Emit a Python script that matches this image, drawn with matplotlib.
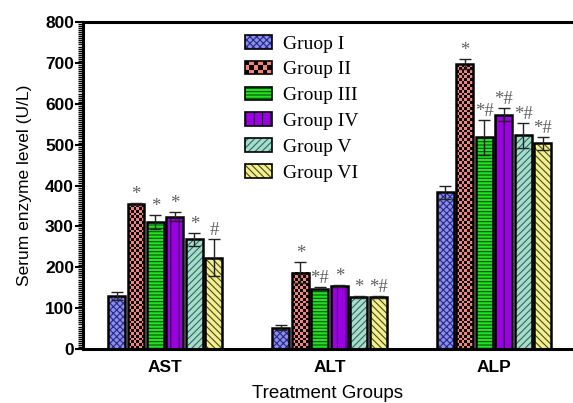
import numpy as np
import matplotlib
matplotlib.use('Agg')
import matplotlib.pyplot as plt
from matplotlib.colors import ListedColormap
from matplotlib.legend_handler import HandlerBase
from matplotlib.patches import Rectangle
from matplotlib.ticker import MultipleLocator

enzymes = ['AST', 'ALT', 'ALP']
groups = ['Gruop I', 'Group II', 'Group III', 'Group IV', 'Group V', 'Group VI']

grp_1 = [129, 52, 383]
grp_2 = [354, 187, 697]
grp_3 = [310, 148, 518]
grp_4 = [324, 154, 573]
grp_5 = [268, 127, 523]
grp_6 = [223, 127, 503]

err_1 = [10, 6, 15]
err_2 = [2, 25, 12]
err_3 = [17, 3, 43]
err_4 = [12, 2, 16]
err_5 = [17, 3, 31]
err_6 = [45, 3, 15]

marks_1 = ['', '', '']
marks_2 = ['*', '*', '*']
marks_3 = ['*', '*#', '*#']
marks_4 = ['*', '*', '*#']
marks_5 = ['*', '*', '*#']
marks_6 = ['#', '*#', '*#']

values = [grp_1, grp_2, grp_3, grp_4, grp_5, grp_6]
errors = [err_1, err_2, err_3, err_4, err_5, err_6]
marks = [marks_1, marks_2, marks_3, marks_4, marks_5, marks_6]

fills = ['#8c8cee', '#f2837a', '#22e022', '#9b00e0', '#a6dccb', '#f2ef8e']
hatch_cols = ['#262a80', 'black', '#0b4d0b', '#2a0045', '#2f6a5c', '#4a4a20']
hatches = ['xxxxx', None, '-----', '||', '/////', '\\\\\\\\\\']

plt.rcParams['hatch.linewidth'] = 0.8

fig = plt.figure(figsize=(5.73, 4.03), dpi=100)
ax = fig.add_axes([83/573, 54/403, 1 - 83/573, 327/403])

x = np.arange(len(enzymes))
width = 0.103
step = 0.1185

for i in range(len(groups)):
    xs = x + (i - 2.5) * step
    if hatches[i] is None:
        ax.bar(xs, values[i], width, color=fills[i], linewidth=0, zorder=2)
        for xi, h in zip(xs, values[i]):
            rows = int(round(h / 7.0))
            checker = np.add.outer(np.arange(rows), np.arange(6)) % 2
            ax.imshow(checker, extent=(xi - width/2, xi + width/2, 0, h), origin='lower',
                      cmap=ListedColormap([fills[i], 'black']), aspect='auto',
                      interpolation='nearest', zorder=2.5)
    else:
        ax.bar(xs, values[i], width, color=fills[i], edgecolor=hatch_cols[i],
               hatch=hatches[i], linewidth=0, zorder=2)
    ax.bar(xs, values[i], width, fill=False, edgecolor='black', linewidth=1.8, zorder=3)
    ax.errorbar(xs, values[i], yerr=errors[i], fmt='none', ecolor='#222222',
                elinewidth=1, capsize=4.5, capthick=1, zorder=4)
    for xi, v, e, m in zip(xs, values[i], errors[i], marks[i]):
        if m:
            ax.annotate(m, (xi, v + e), xytext=(0, 0), textcoords='offset points',
                        ha='center', va='bottom', fontsize=13.5, color='#606060',
                        family='Liberation Serif')

ax.set_xlim(-0.5, 2.48)
ax.set_ylim(0, 800)
ax.set_xticks(x)
ax.set_xticklabels(enzymes, fontsize=12.5, fontweight='bold', family='Liberation Sans')
ax.tick_params(axis='x', length=0, pad=8)
ax.set_yticks(np.arange(0, 801, 100))
ax.yaxis.set_minor_locator(MultipleLocator(5))
ax.tick_params(axis='y', which='major', length=6, width=1.5, labelsize=12.5, pad=0.5)
ax.tick_params(axis='y', which='minor', length=3.5, width=1)
for lab in ax.get_yticklabels():
    lab.set_fontweight('bold')
    lab.set_family('Liberation Sans')

for s in ['left', 'bottom', 'top']:
    ax.spines[s].set_linewidth(2.2)
ax.spines['right'].set_visible(False)

ax.set_ylabel('Serum enzyme level (U/L)', fontsize=12.5, family='Liberation Sans', labelpad=9)
ax.set_xlabel('Treatment Groups', fontsize=13.5, family='Liberation Sans', labelpad=7)


class CheckerHandler(HandlerBase):
    def create_artists(self, legend, orig_handle, xdescent, ydescent, w, h, fontsize, trans):
        arts = [Rectangle((-xdescent, -ydescent), w, h, facecolor=fills[1],
                          edgecolor='black', lw=1.2, transform=trans)]
        nx, ny = 6, 3
        cw, ch = w / nx, h / ny
        for a in range(nx):
            for b in range(ny):
                if (a + b) % 2 == 0:
                    arts.append(Rectangle((-xdescent + a * cw, -ydescent + b * ch), cw, ch,
                                          facecolor='black', lw=0, transform=trans))
        return arts


handles = []
handler_map = {}
for i in range(len(groups)):
    if hatches[i] is None:
        hdl = Rectangle((0, 0), 1, 1, facecolor=fills[i])
        handler_map[hdl] = CheckerHandler()
    else:
        hdl = (Rectangle((0, 0), 1, 1, facecolor=fills[i], edgecolor=hatch_cols[i],
                         hatch=hatches[i], lw=0),
               Rectangle((0, 0), 1, 1, fill=False, edgecolor='black', lw=1.2))
    handles.append(hdl)

ax.legend(handles, groups, handler_map=handler_map, loc='upper left',
          bbox_to_anchor=(0.33, 0.96), frameon=False, borderaxespad=0, borderpad=0,
          handlelength=1.4, handleheight=0.7, labelspacing=0.42, handletextpad=0.55,
          prop={'family': 'Liberation Serif', 'size': 14})

fig.savefig('out.png', dpi=100)
